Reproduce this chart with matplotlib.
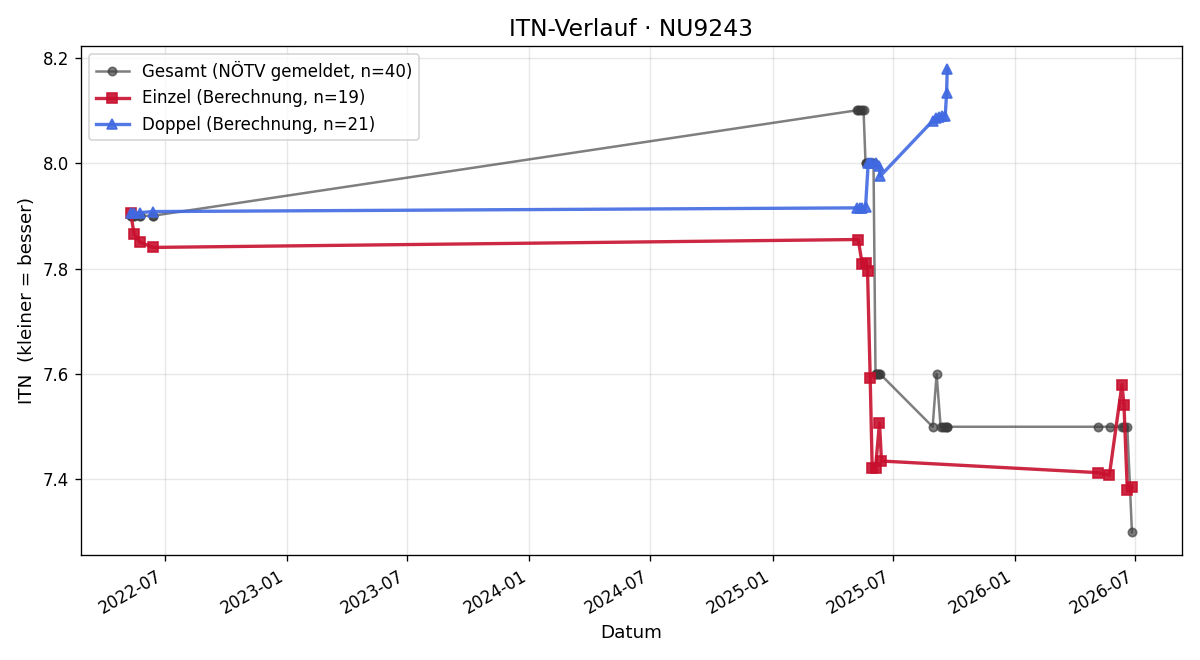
import matplotlib
matplotlib.use("Agg")
import matplotlib.pyplot as plt
import matplotlib.dates as mdates
import pandas as pd

# Gesamt (NÖTV gemeldet)
gesamt_dates = [
    "2022-05-11", "2022-05-11", "2022-05-16", "2022-05-16", "2022-05-25", "2022-05-25", "2022-06-13", "2022-06-13",
    "2025-05-08", "2025-05-10", "2025-05-13", "2025-05-16", "2025-05-18", "2025-05-21", "2025-05-22", "2025-05-24",
    "2025-05-25", "2025-05-27", "2025-05-28", "2025-05-30", "2025-05-31", "2025-06-02", "2025-06-05", "2025-06-06",
    "2025-06-09", "2025-06-11", "2025-06-12",
    "2025-08-30", "2025-09-05", "2025-09-11", "2025-09-14", "2025-09-17", "2025-09-20", "2025-09-21",
    "2026-05-06", "2026-05-24", "2026-06-11", "2026-06-14", "2026-06-19", "2026-06-26",
]
gesamt_itn = [
    7.9, 7.9, 7.9, 7.9, 7.9, 7.9, 7.9, 7.9,
    8.1, 8.1, 8.1, 8.1, 8.1, 8.0, 8.0, 8.0,
    8.0, 8.0, 8.0, 8.0, 8.0, 8.0, 7.6, 7.6,
    7.6, 7.6, 7.6,
    7.5, 7.6, 7.5, 7.5, 7.5, 7.5, 7.5,
    7.5, 7.5, 7.5, 7.5, 7.5, 7.3,
]

# Einzel (Berechnung)
einzel_dates = [
    "2022-05-11", "2022-05-16", "2022-05-25", "2022-06-13",
    "2025-05-10", "2025-05-16", "2025-05-22", "2025-05-24", "2025-05-28",
    "2025-05-31", "2025-06-05", "2025-06-11", "2025-06-14",
    "2026-05-06", "2026-05-23", "2026-06-11", "2026-06-14", "2026-06-19", "2026-06-26",
]
einzel_itn = [
    7.905, 7.865, 7.850, 7.840,
    7.855, 7.808, 7.810, 7.795, 7.593,
    7.422, 7.422, 7.507, 7.435,
    7.413, 7.408, 7.580, 7.542, 7.381, 7.385,
]

# Doppel (Berechnung)
doppel_dates = [
    "2022-05-11", "2022-05-16", "2022-05-25", "2022-06-13",
    "2025-05-08", "2025-05-12", "2025-05-16", "2025-05-21", "2025-05-25",
    "2025-05-28", "2025-05-31", "2025-06-05", "2025-06-11", "2025-06-12",
    "2025-08-30", "2025-09-04", "2025-09-08", "2025-09-13", "2025-09-18", "2025-09-20", "2025-09-21",
]
doppel_itn = [
    7.905, 7.905, 7.906, 7.908,
    7.915, 7.915, 7.915, 7.916, 8.000,
    8.000, 8.000, 8.000, 7.995, 7.975,
    8.080, 8.085, 8.088, 8.090, 8.090, 8.133, 8.178,
]

fig, ax = plt.subplots(figsize=(10, 5.5), dpi=120)

ax.plot(pd.to_datetime(gesamt_dates), gesamt_itn, marker="o", markersize=5,
        color="#3a3a3a", alpha=0.65, linewidth=1.5,
        label="Gesamt (NÖTV gemeldet, n={})".format(len(gesamt_itn)))
ax.plot(pd.to_datetime(einzel_dates), einzel_itn, marker="s", markersize=6,
        color="#c8102e", alpha=0.9, linewidth=2,
        label="Einzel (Berechnung, n={})".format(len(einzel_itn)))
ax.plot(pd.to_datetime(doppel_dates), doppel_itn, marker="^", markersize=6,
        color="#4169e1", alpha=0.9, linewidth=2,
        label="Doppel (Berechnung, n={})".format(len(doppel_itn)))

ax.set_title("ITN-Verlauf · NU9243", fontsize=14)
ax.set_xlabel("Datum", fontsize=11)
ax.set_ylabel("ITN  (kleiner = besser)", fontsize=11)
ax.grid(True, alpha=0.3)
ax.legend(loc="upper left", fontsize=10)
ax.xaxis.set_major_formatter(mdates.DateFormatter("%Y-%m"))
fig.autofmt_xdate()

plt.tight_layout()
plt.savefig("out.png")
